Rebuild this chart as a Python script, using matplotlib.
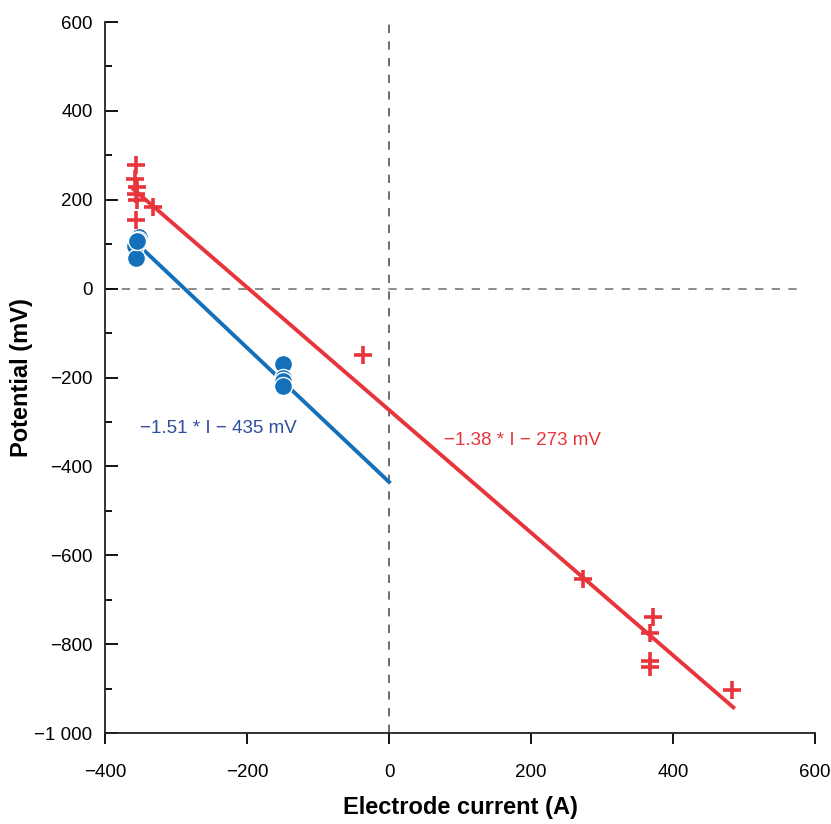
import matplotlib
matplotlib.use("Agg")
import matplotlib.pyplot as plt
import numpy as np
from matplotlib.ticker import FuncFormatter, MultipleLocator

plt.rcParams['font.family'] = ['Liberation Sans', 'DejaVu Sans']

# Data
red_I = [-356, -358, -355, -356, -355, -332, -357, -37, 273, 372, 368, 367, 367, 483]
red_V = [278, 246, 228, 214, 200, 184, 154, -149, -654, -738, -776, -838, -852, -903]
blue_I = [-352, -354, -358, -356, -355, -149, -149, -149, -149]
blue_V = [116, 110, 95, 70, 108, -169, -200, -208, -219]

red_fit = (-1.38, -273, -360, 485)
blue_fit = (-1.51, -435, -356, 0)

red_c = '#e8353b'
blue_c = '#1470b8'

fig = plt.figure(figsize=(8.31, 8.24), dpi=100)
ax = fig.add_axes([0.1264, 0.1104, 0.8543, 0.8629])

ax.axvline(0, color='#555555', ls=(0, (5, 5)), lw=1.2, zorder=1)
ax.plot([-400, 585], [0, 0], color='#777777', ls=(0, (5, 5)), lw=1.2, zorder=1)

for (m, b, x0, x1), c in [(red_fit, red_c), (blue_fit, blue_c)]:
    xs = np.array([x0, x1])
    ax.plot(xs, m * xs + b, color=c, lw=2.8, zorder=2)

ax.plot(blue_I, blue_V, 'o', color=blue_c, ms=13, mec='white', mew=1.0, zorder=3)
ax.plot(red_I, red_V, '+', color=red_c, ms=13, mew=2.6, zorder=4)

ax.text(-351, -325, '\u22121.51 * I \u2212 435 mV', color='#2f4e9e', fontsize=13.5)
ax.text(78, -352, '\u22121.38 * I \u2212 273 mV', color=red_c, fontsize=13.5)

ax.set_xlim(-400, 600)
ax.set_ylim(-1000, 600)
ax.set_xticks([-400, -200, 0, 200, 400, 600])
ax.set_yticks(np.arange(-1000, 601, 200))
ax.yaxis.set_minor_locator(MultipleLocator(100))

def fmt(v, pos):
    v = int(round(v))
    s = '{:,}'.format(abs(v)).replace(',', ' ')
    return ('\u2212' if v < 0 else '') + s

ax.yaxis.set_major_formatter(FuncFormatter(fmt))
ax.xaxis.set_major_formatter(FuncFormatter(fmt))

ax.tick_params(axis='y', which='major', direction='in', length=9, width=1.3, labelsize=13.5, pad=9)
ax.tick_params(axis='y', which='minor', direction='in', length=5, width=1.3)
ax.tick_params(axis='x', which='major', direction='out', length=8, width=1.3, labelsize=13.5, pad=14)

for s in ['top', 'right']:
    ax.spines[s].set_visible(False)
for s in ['left', 'bottom']:
    ax.spines[s].set_linewidth(1.3)
    ax.spines[s].set_color('#222222')

ax.set_xlabel('Electrode current (A)', fontsize=17, fontweight='bold', labelpad=11)
ax.set_ylabel('Potential (mV)', fontsize=17, fontweight='bold')
ax.yaxis.set_label_coords(-0.101, 0.5)

fig.savefig('out.png', dpi=100)
